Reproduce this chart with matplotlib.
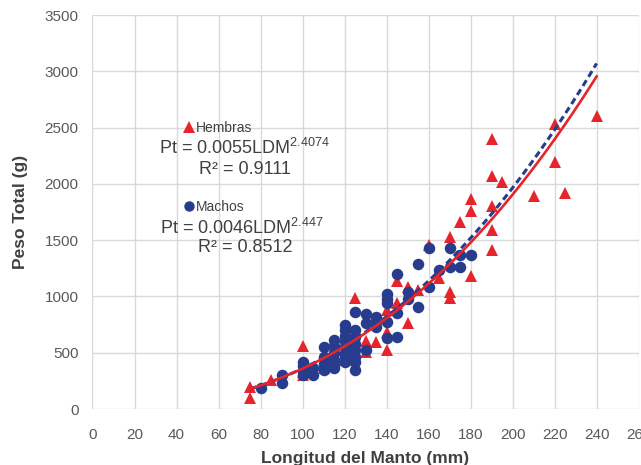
import numpy as np
import matplotlib
matplotlib.use("Agg")
import matplotlib.pyplot as plt
from matplotlib.lines import Line2D

plt.rcParams['font.family'] = ['Liberation Sans', 'DejaVu Sans']
plt.rcParams['mathtext.fontset'] = 'custom'
plt.rcParams['mathtext.rm'] = 'Liberation Sans'

# Hembras (triangles): longitud del manto (mm), peso total (g)
hem_ldm = [75, 75, 85, 100, 100, 100, 110, 110, 115, 120, 120, 125, 125, 125,
           130, 130, 135, 140, 140, 140, 145, 145, 150, 150, 155, 160, 165,
           170, 170, 170, 175, 180, 180, 180, 190, 190, 190, 190, 190, 195,
           210, 220, 220, 225, 240]
hem_pt = [200, 95, 255, 560, 330, 300, 405, 360, 440, 435, 520, 985, 672, 560,
          510, 600, 598, 880, 686, 524, 1140, 945, 1086, 765, 1057, 1456, 1160,
          1530, 1042, 990, 1660, 1870, 1760, 1180, 2400, 2070, 1800, 1590, 1410, 2015,
          1890, 2530, 2190, 1918, 2600]

# Machos (circles)
mac_ldm = [80, 90, 90, 100, 100, 100, 100, 105, 105, 110, 110, 110, 110,
           115, 115, 115, 115, 115, 115, 120, 120, 120, 120, 120, 120, 120, 120,
           125, 125, 125, 125, 125, 125, 125, 125, 130, 130, 130, 135, 135, 135,
           140, 140, 140, 140, 140, 145, 145, 145, 150, 150, 155, 155, 160, 160,
           165, 170, 170, 175, 175, 180]
mac_pt = [190, 300, 230, 420, 380, 340, 300, 360, 300, 550, 465, 400, 345,
          610, 560, 500, 435, 390, 360, 750, 700, 650, 600, 550, 500, 460, 420,
          865, 700, 640, 580, 520, 460, 420, 350, 845, 760, 524, 820, 775, 730,
          1020, 980, 940, 775, 630, 1200, 850, 640, 1036, 977, 1285, 908, 1427, 1086,
          1234, 1427, 1264, 1365, 1264, 1365]

# trendlines Pt = a * LDM^b
hem_a, hem_b, hem_r2 = 0.0055, 2.4074, 0.9111
mac_a, mac_b, mac_r2 = 0.0046, 2.447, 0.8512
fit_range = (75, 240)

RED = '#e5252b'
BLUE = '#283c8e'
TXT = '#404040'

fig = plt.figure(figsize=(6.41, 4.65), dpi=100)
ax = fig.add_axes([0.1443, 0.1204, 0.852, 0.8473])

ax.plot(hem_ldm, hem_pt, linestyle='none', marker='^', ms=9, color=RED,
        markeredgewidth=0, zorder=3)
ax.plot(mac_ldm, mac_pt, linestyle='none', marker='o', ms=8.3, color=BLUE,
        markeredgewidth=0, zorder=4)

xf = np.linspace(fit_range[0], fit_range[1], 200)
ax.plot(xf, mac_a * xf ** mac_b, color=BLUE, lw=2.2, ls=(0, (2.2, 1.3)), zorder=5)
ax.plot(xf, hem_a * xf ** hem_b, color=RED, lw=1.9, zorder=6)

ax.set_xlim(0, 260)
ax.set_ylim(0, 3500)
ax.set_xticks(np.arange(0, 261, 20))
ax.set_yticks(np.arange(0, 3501, 500))
ax.grid(True, color='#d9d9d9', lw=1)
ax.set_axisbelow(True)
for s in ax.spines.values():
    s.set_visible(False)
ax.tick_params(axis='x', length=0, pad=14, labelsize=11, labelcolor='#595959')
ax.tick_params(axis='y', length=0, pad=10, labelsize=11, labelcolor='#595959')
ax.set_xlabel('Longitud del Manto (mm)', fontsize=12.5, fontweight='bold',
              color=TXT, labelpad=6)
ax.set_ylabel('Peso Total (g)', fontsize=12.5, fontweight='bold',
              color=TXT, labelpad=12)

# legend entries placed inside the plot area
h1 = Line2D([], [], ls='none', marker='^', ms=8, color=RED, markeredgewidth=0)
h2 = Line2D([], [], ls='none', marker='o', ms=7.5, color=BLUE, markeredgewidth=0)
leg1 = ax.legend([h1], ['Hembras'], loc='center left', bbox_to_anchor=(0.153, 0.713),
                 frameon=False, handlelength=0.8, handletextpad=0.15,
                 borderpad=0, fontsize=10)
for t in leg1.get_texts():
    t.set_color(TXT)
ax.add_artist(leg1)
leg2 = ax.legend([h2], ['Machos'], loc='center left', bbox_to_anchor=(0.153, 0.513),
                 frameon=False, handlelength=0.8, handletextpad=0.15,
                 borderpad=0, fontsize=10)
for t in leg2.get_texts():
    t.set_color(TXT)

ax.text(0.279, 0.663, 'Pt = %.4fLDM$^{%s}$' % (hem_a, hem_b), transform=ax.transAxes,
        ha='center', va='center', fontsize=13, color=TXT)
ax.text(0.279, 0.609, 'R² = %.4f' % hem_r2, transform=ax.transAxes,
        ha='center', va='center', fontsize=13, color=TXT)
ax.text(0.273, 0.460, 'Pt = %.4fLDM$^{%s}$' % (mac_a, mac_b), transform=ax.transAxes,
        ha='center', va='center', fontsize=13, color=TXT)
ax.text(0.279, 0.409, 'R² = %.4f' % mac_r2, transform=ax.transAxes,
        ha='center', va='center', fontsize=13, color=TXT)

fig.savefig('out.png', dpi=100)
